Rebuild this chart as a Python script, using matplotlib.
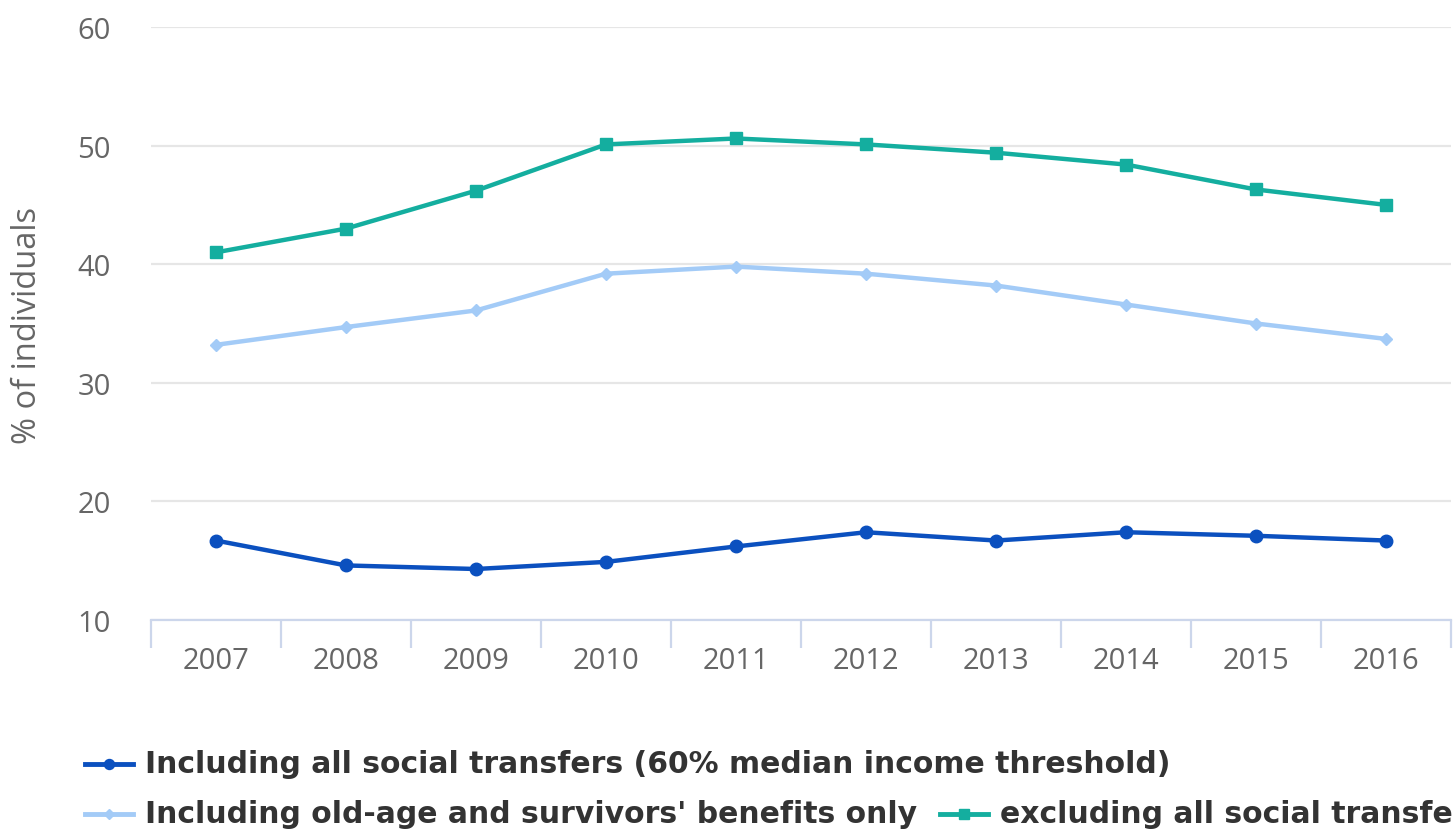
import matplotlib
matplotlib.use("Agg")
import matplotlib.pyplot as plt
from matplotlib.lines import Line2D
import numpy as np

years = ["2007", "2008", "2009", "2010", "2011", "2012", "2013", "2014", "2015", "2016"]
incl_all = [16.7, 14.6, 14.3, 14.9, 16.2, 17.4, 16.7, 17.4, 17.1, 16.7]
incl_oldage = [33.2, 34.7, 36.1, 39.2, 39.8, 39.2, 38.2, 36.6, 35.0, 33.7]
excl_all = [41.0, 43.0, 46.2, 50.1, 50.6, 50.1, 49.4, 48.4, 46.3, 45.0]

labels = ["Including all social transfers (60% median income threshold)",
          "Including old-age and survivors' benefits only",
          "excluding all social transfers"]
colors = ["#0b50bf", "#a3cbf7", "#14ae9f"]
markers = ["o", "D", "s"]
msizes = [9, 6, 9]

W, H = 1454, 837
fig = plt.figure(figsize=(W / 100, H / 100), dpi=100)
ax = fig.add_axes([151 / W, 1 - 621 / H, 1300 / W, 593 / H])

x = np.arange(len(years))
series = [incl_all, incl_oldage, excl_all]
for vals, c, m, ms in zip(series, colors, markers, msizes):
    ax.plot(x, vals, color=c, lw=3.2, marker=m, ms=ms, mec=c, mfc=c, zorder=3, clip_on=False)

ax.set_xlim(-0.5, len(years) - 0.5)
ax.set_ylim(10, 60)
ax.set_yticks([10, 20, 30, 40, 50, 60])
ax.yaxis.grid(True, color="#e6e6e6", lw=1.6)
ax.set_axisbelow(True)
for s in ["left", "right", "top"]:
    ax.spines[s].set_visible(False)
ax.spines["bottom"].set_color("#ccd6eb")
ax.spines["bottom"].set_linewidth(1.6)
ax.spines["bottom"].set_zorder(2)

ax.set_xticks(x)
ax.set_xticklabels(years)
ax.set_xticks(np.arange(-0.5, len(years)), minor=True)
ax.tick_params(axis="x", which="major", length=0, pad=19, labelsize=21, labelcolor="#666666")
ax.tick_params(axis="x", which="minor", length=20, width=1.6, color="#ccd6eb")
ax.tick_params(axis="y", length=0, pad=29, labelsize=21, labelcolor="#666666")
for lab in ax.get_xticklabels() + ax.get_yticklabels():
    lab.set_fontfamily("Open Sans")

fig.text(28 / W, 1 - 325 / H, "% of individuals", rotation=90, ha="center", va="center",
         fontsize=23.5, color="#666666", family="Open Sans")

# legend drawn manually (Highcharts-style wrapped layout)
def legend_item(x0, y0, color, marker, ms, text):
    fig.add_artist(Line2D([x0 / W, (x0 + 48) / W], [1 - y0 / H, 1 - y0 / H],
                          transform=fig.transFigure, color=color, lw=3.5))
    fig.add_artist(Line2D([(x0 + 24) / W], [1 - y0 / H], transform=fig.transFigure,
                          color=color, marker=marker, ms=ms * 0.8, lw=0))
    fig.text((x0 + 60) / W, 1 - y0 / H, text, ha="left", va="center",
             fontsize=21.5, fontweight="bold", color="#333333")

legend_item(85, 765, colors[0], markers[0], msizes[0], labels[0])
legend_item(85, 815, colors[1], markers[1], msizes[1], labels[1])
legend_item(940, 815, colors[2], markers[2], msizes[2], labels[2])

fig.savefig("out.png", dpi=100)
